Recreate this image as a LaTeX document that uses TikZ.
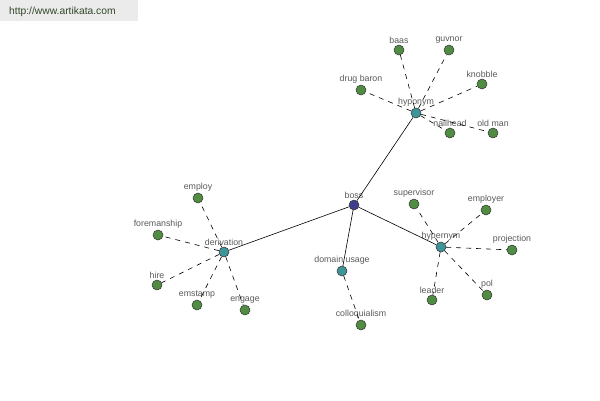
\documentclass[tikz,border=0pt]{standalone}
\usepackage{fontspec}
\setmainfont{Liberation Sans}
\definecolor{leafgreen}{RGB}{80,140,66}
\definecolor{hubteal}{RGB}{62,148,150}
\definecolor{rootblue}{RGB}{62,62,140}
\definecolor{lbltext}{RGB}{90,90,90}
\definecolor{urltext}{RGB}{50,70,40}
\begin{document}
\begin{tikzpicture}[x=1pt,y=-1pt,
  every label/.style={font=\fontsize{8.8}{10}\selectfont, text=lbltext, inner sep=1pt},
  base/.style={circle, draw=black!80, line width=0.5pt, minimum size=10pt, inner sep=0pt},
  hubnode/.style={base, fill=hubteal},
  leafnode/.style={base, fill=leafgreen},
  rootnode/.style={base, fill=rootblue},
  solidedge/.style={draw=black, line width=0.6pt},
  dashedge/.style={draw=black, line width=0.6pt, dash pattern=on 5pt off 5pt}]
\useasboundingbox (0,0) rectangle (600,400);
\fill[white] (0,0) rectangle (600,400);
\fill[black!8] (0,0) rectangle (138,21);
\node[font=\fontsize{10.3}{12}\selectfont, text=urltext, anchor=west, inner sep=0pt] (url) at (9,11.5) {http://www.artikata.com};

\node[rootnode, label={above:boss}] (boss) at (354,205) {};
\node[hubnode, label={above:hyponym}] (hypo) at (416,113) {};
\node[hubnode, label={above:derivation}] (deri) at (224,252) {};
\node[hubnode, label={above:hypernym}] (hyper) at (441,247) {};
\node[hubnode, label={above:domain usage}] (dom) at (342,271) {};

\node[leafnode, label={above:baas}] (baas) at (399,50) {};
\node[leafnode, label={above:guvnor}] (guvnor) at (449,50) {};
\node[leafnode, label={above:knobble}] (knobble) at (482,84) {};
\node[leafnode, label={above:drug baron}] (drug) at (361,90) {};
\node[leafnode, label={above:nailhead}] (nail) at (450,133) {};
\node[leafnode, label={above:old man}] (oldman) at (493,133) {};

\node[leafnode, label={above:employ}] (employ) at (198,198) {};
\node[leafnode, label={above:foremanship}] (fore) at (158,235) {};
\node[leafnode, label={above:hire}] (hire) at (157,285) {};
\node[leafnode, label={above:emstamp}] (emstamp) at (197,305) {};
\node[leafnode, label={above:engage}] (engage) at (245,310) {};

\node[leafnode, label={above:supervisor}] (super) at (414,204) {};
\node[leafnode, label={above:employer}] (employer) at (486,210) {};
\node[leafnode, label={above:projection}] (proj) at (512,250) {};
\node[leafnode, label={above:leader}] (leader) at (432,300) {};
\node[leafnode, label={above:pol}] (pol) at (487,295) {};

\node[leafnode, label={above:colloquialism}] (coll) at (361,325) {};

\draw[solidedge] (boss) -- (hypo);
\draw[solidedge] (boss) -- (deri);
\draw[solidedge] (boss) -- (hyper);
\draw[solidedge] (boss) -- (dom);
\foreach \n in {baas,guvnor,knobble,drug,nail,oldman} \draw[dashedge] (hypo) -- (\n);
\foreach \n in {employ,fore,hire,emstamp,engage} \draw[dashedge] (deri) -- (\n);
\foreach \n in {super,employer,proj,leader,pol} \draw[dashedge] (hyper) -- (\n);
\draw[dashedge] (dom) -- (coll);
\end{tikzpicture}
\end{document}
